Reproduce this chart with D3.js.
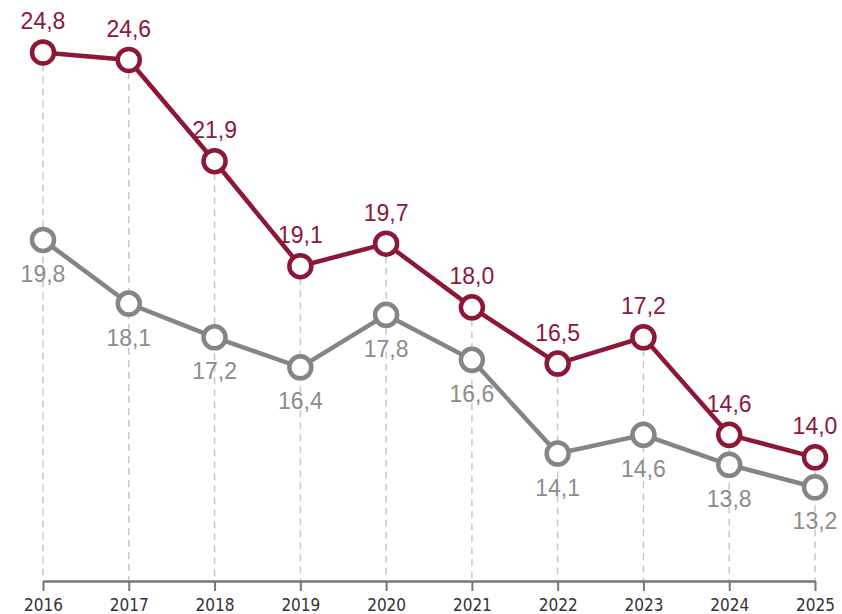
<!DOCTYPE html>
<html>
<head>
<meta charset="utf-8">
<script src="https://cdn.jsdelivr.net/npm/d3@7"></script>
<style>
  body { margin: 0; background: #fff; }
  .tick-label { font-family: "Liberation Sans Narrow", "DejaVu Sans Condensed", sans-serif; font-size: 17px; fill: #333; }
  .val { font-family: "Liberation Sans", Arial, sans-serif; font-size: 23px; }
</style>
</head>
<body>
<div id="chart"></div>
<script>
// Data
const years = ["2016", "2017", "2018", "2019", "2020", "2021", "2022", "2023", "2024", "2025"];
const redValues = [24.8, 24.6, 21.9, 19.1, 19.7, 18.0, 16.5, 17.2, 14.6, 14.0];
const grayValues = [19.8, 18.1, 17.2, 16.4, 17.8, 16.6, 14.1, 14.6, 13.8, 13.2];

const width = 842, height = 614;
const red = "#8c1737", gray = "#858585", grayText = "#8c8c8c";

const svg = d3.select("#chart").append("svg")
  .attr("width", width)
  .attr("height", height);

const x = d3.scalePoint().domain(years).range([43, 815]);
const y = d3.scaleLinear().domain([10.7, 26.2]).range([581, 0]);

const fmt = (v) => d3.format(".1f")(v).replace(".", ",");

// dashed guide lines
svg.append("g").selectAll("line")
  .data(years)
  .enter().append("line")
  .attr("x1", (d) => x(d)).attr("x2", (d) => x(d))
  .attr("y1", (d, i) => y(redValues[i]))
  .attr("y2", y(10.7))
  .attr("stroke", "#c8c8c8")
  .attr("stroke-width", 1.5)
  .attr("stroke-dasharray", "7,5");

// x axis
const axis = svg.append("g")
  .attr("transform", `translate(0,${y(10.7)})`)
  .call(d3.axisBottom(x).tickSize(10).tickPadding(8).tickSizeOuter(0));
axis.select(".domain").attr("stroke", "#777").attr("stroke-width", 2.5);
axis.selectAll(".tick line").attr("stroke", "#777").attr("stroke-width", 2);
axis.selectAll(".tick text").attr("class", "tick-label").attr("font-family", null).attr("font-size", null).attr("fill", null);

function drawSeries(values, color, textColor, labelDy) {
  const line = d3.line().x((d, i) => x(years[i])).y((d) => y(d));
  svg.append("path")
    .datum(values)
    .attr("d", line)
    .attr("fill", "none")
    .attr("stroke", color)
    .attr("stroke-width", 4.5);

  svg.append("g").selectAll("circle")
    .data(values)
    .enter().append("circle")
    .attr("cx", (d, i) => x(years[i]))
    .attr("cy", (d) => y(d))
    .attr("r", 11)
    .attr("fill", "#fff")
    .attr("stroke", color)
    .attr("stroke-width", 4.5);

  svg.append("g").selectAll("text")
    .data(values)
    .enter().append("text")
    .attr("class", "val")
    .attr("x", (d, i) => x(years[i]))
    .attr("y", (d) => y(d) + labelDy)
    .attr("text-anchor", "middle")
    .attr("fill", textColor)
    .text(fmt);
}

drawSeries(grayValues, gray, grayText, 42);
drawSeries(redValues, red, red, -23);
</script>
</body>
</html>
